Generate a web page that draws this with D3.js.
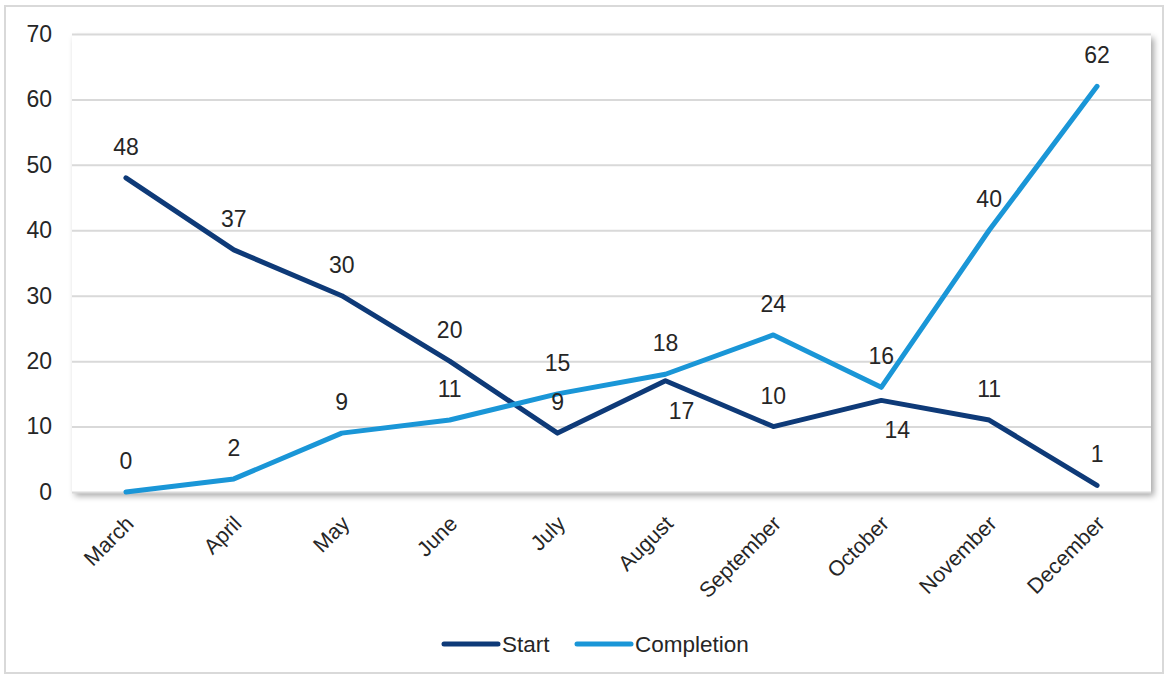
<!DOCTYPE html>
<html><head><meta charset="utf-8">
<script src="https://cdn.jsdelivr.net/npm/d3@7"></script>
<style>body{margin:0;background:#fff}svg{display:block}text{font-family:"Liberation Sans",Arial,sans-serif;fill:#262626}</style>
</head><body>
<svg id="c" width="1170" height="676"></svg>
<script>
const months = ["March","April","May","June","July","August","September","October","November","December"];
const startVals = [48,37,30,20,9,17,10,14,11,1];
const completionVals = [0,2,9,11,15,18,24,16,40,62];
const yTicks = [0,10,20,30,40,50,60,70];
const startLabelPos = ["above","above","above","above","above","below","above","below","above","above"];
const completionLabelPos = ["above","above","above","above","above","above","above","above","above","above"];

const svg = d3.select("#c");
const m = {l:72, r:1151, t:34, b:492};
const FONT = '"Liberation Sans",Arial,sans-serif';

const defs = svg.append("defs");
const f = defs.append("filter").attr("id","sh").attr("x","-5%").attr("y","-5%").attr("width","115%").attr("height","120%");
f.append("feDropShadow").attr("dx",3).attr("dy",4).attr("stdDeviation",3).attr("flood-color","#000").attr("flood-opacity",0.35);

svg.append("rect").attr("x",5).attr("y",6).attr("width",1158).attr("height",667)
  .attr("fill","#fff").attr("stroke","#d9d9d9").attr("stroke-width",2);

const x = d3.scaleBand().domain(months).range([m.l,m.r]);
const y = d3.scaleLinear().domain([0,70]).range([m.b,m.t]);

svg.append("rect").attr("x",m.l).attr("y",m.t).attr("width",m.r-m.l).attr("height",m.b-m.t)
  .attr("fill","#fff").attr("filter","url(#sh)");

const grid = svg.append("g").attr("transform",`translate(${m.l},0)`)
  .call(d3.axisLeft(y).tickValues(yTicks).tickSize(-(m.r-m.l)).tickFormat(""));
grid.select(".domain").remove();
grid.selectAll("line").attr("stroke","#d9d9d9").attr("stroke-width",2);

const ya = svg.append("g").attr("transform",`translate(${m.l-20},0)`)
  .call(d3.axisLeft(y).tickValues(yTicks).tickSize(0).tickPadding(0));
ya.select(".domain").remove();
ya.selectAll("text").attr("font-size",23).attr("fill","#262626").style("font-family",FONT);

const xa = svg.append("g").attr("transform",`translate(0,${m.b})`)
  .call(d3.axisBottom(x).tickSize(0).tickPadding(0));
xa.select(".domain").remove();
xa.selectAll("text").attr("font-size",21.5).attr("fill","#262626").style("font-family",FONT)
  .attr("text-anchor","end").attr("dy",0)
  .attr("transform","translate(9,33) rotate(-45)");

const cx = d => x(d) + x.bandwidth()/2;
const line = d3.line().x((d,i)=>cx(months[i])).y(d=>y(d));

const series = [
  {name:"Start", vals:startVals, color:"#0e3a78", pos:startLabelPos},
  {name:"Completion", vals:completionVals, color:"#1a96d7", pos:completionLabelPos}
];
series.forEach(s=>{
  svg.append("path").datum(s.vals).attr("d",line).attr("fill","none")
    .attr("stroke",s.color).attr("stroke-width",5).attr("stroke-linejoin","round").attr("stroke-linecap","round");
});
series.forEach(s=>{
  svg.append("g").selectAll("text").data(s.vals).join("text")
    .attr("x",(d,i)=>cx(months[i]) + (s.pos[i]==="below"?16:0))
    .attr("y",(d,i)=>y(d) + (s.pos[i]==="below"?38:-23))
    .attr("text-anchor","middle").attr("font-size",23).text(d=>d);
});

const lg = svg.append("g");
const items = [{name:"Start",color:"#0e3a78",x:444},{name:"Completion",color:"#1a96d7",x:577}];
items.forEach(it=>{
  lg.append("line").attr("x1",it.x).attr("x2",it.x+54).attr("y1",644).attr("y2",644)
    .attr("stroke",it.color).attr("stroke-width",5).attr("stroke-linecap","round");
  lg.append("text").attr("x",it.x+58).attr("y",652).attr("font-size",22.5).text(it.name);
});
</script>
</body></html>
